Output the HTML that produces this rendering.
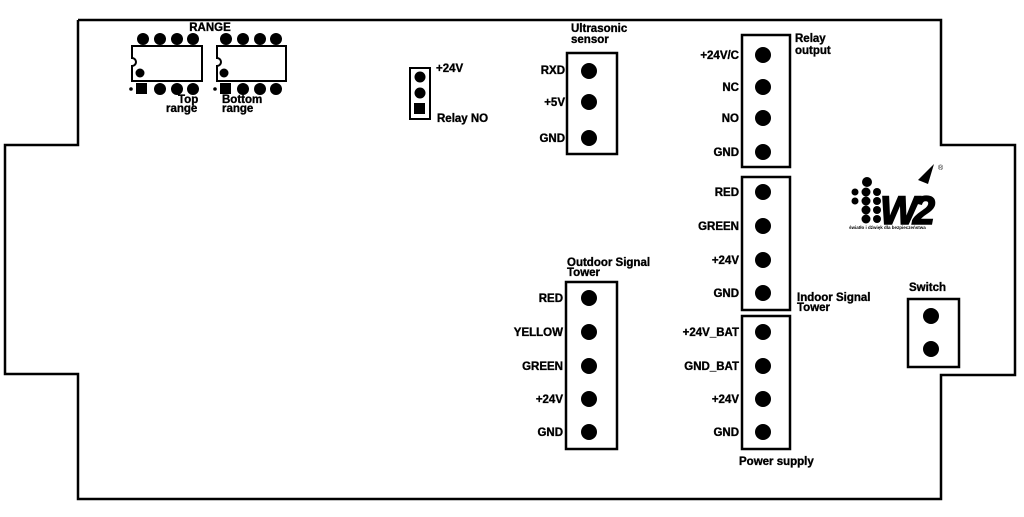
<!DOCTYPE html>
<html><head><meta charset="utf-8"><style>
html,body{margin:0;padding:0;background:#fff;}
svg{display:block;}
text{font-family:"Liberation Sans","DejaVu Sans",sans-serif;font-weight:bold;font-size:11.5px;fill:#000;stroke:#000;stroke-width:0.35px;}
.r{text-anchor:end;}
</style></head><body>
<svg width="1024" height="517" viewBox="0 0 1024 517" xmlns="http://www.w3.org/2000/svg">
<polyline points="78,20 78,145 5,145 5,374 78,374 78,499 941,499 941,375 1015,375 1015,145 941,145 941,20 78,20" fill="none" stroke="#000" stroke-width="2.5"/>

<g fill="#000">
<circle cx="143" cy="39" r="6"/><circle cx="160" cy="39" r="6"/><circle cx="177" cy="39" r="6"/><circle cx="193" cy="39" r="6"/>
<rect x="136" y="83" width="11" height="11"/><circle cx="160" cy="89" r="6"/><circle cx="177" cy="89" r="6"/><circle cx="193" cy="89" r="6"/>
<circle cx="131" cy="89" r="1.8"/><circle cx="140" cy="73" r="4.5"/>
<circle cx="226" cy="39" r="6"/><circle cx="243" cy="39" r="6"/><circle cx="260" cy="39" r="6"/><circle cx="276" cy="39" r="6"/>
<rect x="220" y="83" width="11" height="11"/><circle cx="243" cy="89" r="6"/><circle cx="260" cy="89" r="6"/><circle cx="276" cy="89" r="6"/>
<circle cx="215" cy="89" r="1.8"/><circle cx="224" cy="73" r="4.5"/>
</g>
<path d="M132,46 H202 V81 H132 V66 A4,4 0 0 0 132,58 Z" fill="none" stroke="#000" stroke-width="2"/>
<path d="M217,46 H286 V81 H217 V66 A4,4 0 0 0 217,58 Z" fill="none" stroke="#000" stroke-width="2"/>
<text x="210" y="31" text-anchor="middle">RANGE</text>
<text x="178" y="103">Top</text><text x="166" y="112">range</text>
<text x="222" y="103">Bottom</text><text x="222" y="112">range</text>

<rect x="410" y="68" width="20" height="51" fill="none" stroke="#000" stroke-width="2"/>
<circle cx="420" cy="77" r="5.5"/><circle cx="420" cy="93" r="5.5"/><rect x="414" y="103" width="11" height="11"/>
<text x="436" y="72">+24V</text><text x="437" y="122">Relay NO</text>

<g fill="none" stroke="#000" stroke-width="2.5">
<rect x="567" y="53" width="50" height="101"/>
<rect x="742" y="35" width="48" height="132"/>
<rect x="742" y="177" width="48" height="133"/>
<rect x="742" y="316" width="48" height="133"/>
<rect x="566" y="282" width="51" height="167"/>
<rect x="908" y="299" width="51" height="68"/>
</g>
<g fill="#000">
<circle cx="589" cy="71" r="8"/><circle cx="589" cy="102" r="8"/><circle cx="589" cy="138" r="8"/>
<circle cx="763" cy="55" r="8"/><circle cx="763" cy="87" r="8"/><circle cx="763" cy="118" r="8"/><circle cx="763" cy="152" r="8"/>
<circle cx="763" cy="192" r="8"/><circle cx="763" cy="226" r="8"/><circle cx="763" cy="260" r="8"/><circle cx="763" cy="293" r="8"/>
<circle cx="763" cy="332" r="8"/><circle cx="763" cy="366" r="8"/><circle cx="763" cy="399" r="8"/><circle cx="763" cy="432" r="8"/>
<circle cx="589" cy="298" r="8"/><circle cx="589" cy="332" r="8"/><circle cx="589" cy="366" r="8"/><circle cx="589" cy="399" r="8"/><circle cx="589" cy="432" r="8"/>
<circle cx="931" cy="316" r="8"/><circle cx="931" cy="349" r="8"/>
</g>

<text x="571" y="32">Ultrasonic</text><text x="571" y="43">sensor</text>
<text class="r" x="565" y="74">RXD</text><text class="r" x="565" y="106">+5V</text><text class="r" x="565" y="142">GND</text>

<text x="795" y="42">Relay</text><text x="795" y="54">output</text>
<text class="r" x="739" y="59">+24V/C</text><text class="r" x="739" y="91">NC</text><text class="r" x="739" y="122">NO</text><text class="r" x="739" y="156">GND</text>
<text class="r" x="739" y="196">RED</text><text class="r" x="739" y="230">GREEN</text><text class="r" x="739" y="264">+24V</text><text class="r" x="739" y="297">GND</text>
<text x="797" y="301">Indoor Signal</text><text x="797" y="311">Tower</text>
<text class="r" x="739" y="336">+24V_BAT</text><text class="r" x="739" y="370">GND_BAT</text><text class="r" x="739" y="403">+24V</text><text class="r" x="739" y="436">GND</text>
<text x="739" y="465">Power supply</text>

<text x="567" y="266">Outdoor Signal</text><text x="567" y="276">Tower</text>
<text class="r" x="563" y="302">RED</text><text class="r" x="563" y="336">YELLOW</text><text class="r" x="563" y="370">GREEN</text><text class="r" x="563" y="403">+24V</text><text class="r" x="563" y="436">GND</text>

<text x="909" y="291">Switch</text>

<g fill="#000">
<circle cx="867" cy="182" r="5"/>
<circle cx="855" cy="192" r="3.5"/><circle cx="866" cy="192" r="4.5"/><circle cx="877" cy="192" r="4"/>
<circle cx="855" cy="201" r="3.5"/><circle cx="866" cy="201" r="4.5"/><circle cx="877" cy="201" r="4"/>
<circle cx="866" cy="210" r="4.5"/><circle cx="877" cy="210" r="4"/>
<circle cx="866" cy="219" r="4.5"/><circle cx="877" cy="219" r="4"/>
</g>
<text x="880" y="224" style="font-size:40px;font-style:italic;letter-spacing:-5px;stroke-width:1.5px">W2</text>
<path d="M918,180 L934,164 L928,184 Z" fill="#000"/>
<text x="938" y="170" style="font-size:7px;font-weight:normal;stroke-width:0">®</text>
<text x="849" y="229" style="font-size:4.5px;stroke-width:0">światło i dźwięk dla bezpieczeństwa</text>
</svg>
</body></html>
